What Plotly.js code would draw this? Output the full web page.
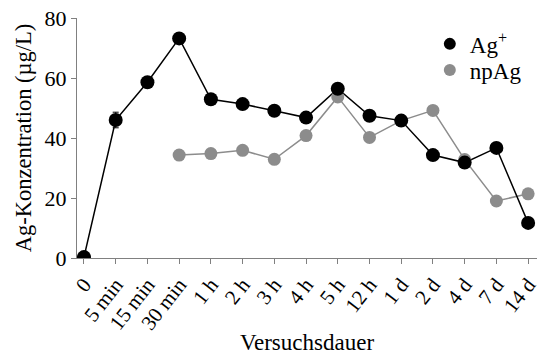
<!DOCTYPE html>
<html><head><meta charset="utf-8">
<script src="https://cdn.plot.ly/plotly-3.0.1.min.js"></script>
<style>html,body{margin:0;padding:0;background:#fff}#c{width:541px;height:361px}</style>
</head><body><div id="c"></div>
<script>
const categories = ["0","5 min","15 min","30 min","1 h","2 h","3 h","4 h","5 h","12 h","1 d","2 d","4 d","7 d","14 d"];
const agIon = [0.3,46,58.6,73.2,52.9,51.3,49.1,46.8,56.4,47.4,45.8,34.3,31.8,36.7,11.7];
const agIonErr = [0,2.6,0,0,0,0,0,0,0,0,0,0,0,0,0];
const npAgCats = ["30 min","1 h","2 h","3 h","4 h","5 h","12 h","1 d","2 d","4 d","7 d","14 d"];
const npAg = [34.3,34.8,35.9,32.9,40.8,53.7,40.2,45.8,49.2,32.8,19,21.4];
const yTicks = [0,20,40,60,80];

const font = "'Liberation Serif','DejaVu Serif',serif";
const grey = '#8c8c8c';
const traces = [
  {x: npAgCats, y: npAg, type:'scatter', mode:'lines', showlegend:false, hoverinfo:'skip',
   line:{color:grey, width:1.5}},
  {x: categories, y: agIon, type:'scatter', mode:'lines', showlegend:false, hoverinfo:'skip',
   line:{color:'#000', width:1.5}},
  {x: npAgCats, y: npAg, type:'scatter', mode:'markers', name:'npAg', legend:'legend2',
   marker:{color:grey, size:13}},
  {x: categories, y: agIon, type:'scatter', mode:'markers', name:'Ag<sup>+</sup>', legend:'legend',
   marker:{color:'#000', size:14},
   error_y:{type:'data', array:agIonErr, color:'#000', thickness:1, width:3}}
];
const legendCommon = {xanchor:'left', yanchor:'middle', itemsizing:'constant',
  font:{family:font, size:23}, bgcolor:'rgba(0,0,0,0)', itemwidth:30, borderwidth:0};
const layout = {
  width:541, height:361,
  margin:{l:77, r:4, t:18, b:103},
  paper_bgcolor:'#fff', plot_bgcolor:'#fff',
  font:{family:font, color:'#000', size:20},
  showlegend:true,
  legend:Object.assign({x:0.767, y:0.892}, legendCommon),
  legend2:Object.assign({x:0.767, y:0.783}, legendCommon),
  xaxis:{type:'category', categoryorder:'array', categoryarray:categories,
         range:[-0.22,14.28], showline:true, linecolor:'#808080', linewidth:1,
         ticks:'outside', ticklen:5, tickcolor:'#808080', tickangle:-52,
         showgrid:false, zeroline:false, tickfont:{family:font, size:21}, automargin:false,
         title:{text:'Versuchsdauer', font:{family:font, size:23}, standoff:0}},
  yaxis:{range:[0,80], tickvals:yTicks, showline:true, linecolor:'#808080', linewidth:1,
         ticks:'outside', ticklen:5, tickcolor:'#808080', showgrid:false, zeroline:false,
         tickfont:{family:font, size:22}, automargin:false,
         title:{text:'Ag-Konzentration (µg/L)', font:{family:font, size:22.5}, standoff:6}}
};
Plotly.newPlot('c', traces, layout, {displayModeBar:false, staticPlot:true});
</script></body></html>
